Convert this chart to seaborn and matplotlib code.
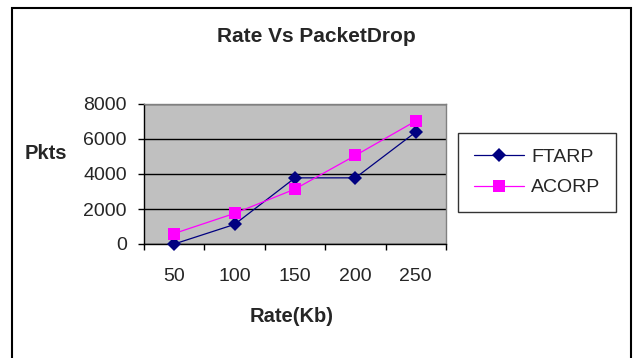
import matplotlib
matplotlib.use("Agg")
import pandas as pd
import matplotlib.pyplot as plt
import seaborn as sns
from matplotlib.patches import Rectangle
from matplotlib.ticker import FixedLocator

rates = ["50", "100", "150", "200", "250"]
ftarp = [0, 1120, 3780, 3780, 6400]
acorp = [600, 1750, 3140, 5060, 7030]
yticks = [0, 2000, 4000, 6000, 8000]

df = pd.DataFrame({"Rate": rates, "FTARP": ftarp, "ACORP": acorp})

sns.set_style("white")
plt.rcParams["font.family"] = ["Liberation Sans", "DejaVu Sans"]

W, H = 633, 358
fig = plt.figure(figsize=(W / 100, H / 100), dpi=100)
ax = fig.add_axes([144 / W, 1 - 244 / H, 302 / W, 140 / H])
ax.set_facecolor("#C0C0C0")

sns.lineplot(data=df, x="Rate", y="FTARP", color="#000080", marker="D",
             markersize=7, markeredgewidth=0, linewidth=0.9, sort=False,
             label="FTARP", ax=ax)
sns.lineplot(data=df, x="Rate", y="ACORP", color="#FF00FF", marker="s",
             markersize=8.4, markeredgewidth=0, linewidth=0.9, sort=False,
             label="ACORP", ax=ax)
for ln in ax.lines:
    ln.set_clip_on(False)
    ln.set_zorder(5)

ax.set_xlim(-0.5, 4.5)
ax.set_ylim(0, 8000)
ax.set_yticks(yticks)
ax.yaxis.grid(True, color="black", linewidth=1)
ax.set_axisbelow(True)

# category boundaries get tick marks, centres get labels
ax.xaxis.set_major_locator(FixedLocator([i - 0.5 for i in range(6)]))
ax.xaxis.set_ticklabels([])
ax.set_xticks(range(5), rates, minor=True)
ax.tick_params(axis="x", which="major", direction="out", length=4, width=1,
               color="black", bottom=True)
ax.tick_params(axis="x", which="minor", length=0, pad=17, labelsize=14)
ax.tick_params(axis="y", direction="out", length=4.5, width=1, color="black",
               left=True, pad=8, labelsize=14)

for side in ["left", "bottom"]:
    ax.spines[side].set_color("black")
    ax.spines[side].set_linewidth(1)
for side in ["top", "right"]:
    ax.spines[side].set_color("#808080")
    ax.spines[side].set_linewidth(1)

ax.set_xlabel("Rate(Kb)", fontsize=14.5, fontweight="bold", va="center")
ax.xaxis.set_label_coords(0.49, -0.521)
ax.set_ylabel("Pkts", fontsize=14.5, fontweight="bold", rotation=0,
              ha="center", va="center")
ax.yaxis.set_label_coords(-0.3245, 0.643)

fig.text(316 / W, 1 - 36 / H, "Rate Vs PacketDrop", fontsize=15,
         fontweight="bold", ha="center", va="center")

leg = ax.legend(loc="upper left", bbox_to_anchor=(458 / W, 1 - 133 / H),
                bbox_transform=fig.transFigure, fontsize=14,
                frameon=True, fancybox=False, handlelength=2.6,
                handletextpad=0.35, borderpad=0.8, labelspacing=0.65,
                borderaxespad=0)
leg.get_frame().set_edgecolor("black")
leg.get_frame().set_linewidth(1)

fig.patches.append(Rectangle((12 / W, -0.02), (631 - 12) / W, 1 - 8 / H + 0.02,
                             transform=fig.transFigure, fill=False,
                             edgecolor="black", linewidth=1.5))

fig.savefig("out.png", dpi=100)
